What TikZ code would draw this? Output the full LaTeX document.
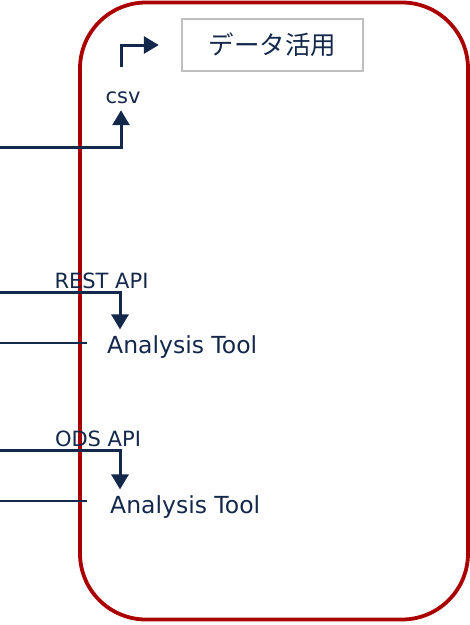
\documentclass[tikz,border=0pt]{standalone}
\usepackage{fontspec}
\setmainfont{DejaVu Sans}
\newfontfamily\jpfont{Noto Sans CJK JP}
\usetikzlibrary{arrows.meta,positioning}
\definecolor{navy}{HTML}{14284B}
\definecolor{frame}{HTML}{AA0000}
\definecolor{boxgray}{HTML}{BFBFBF}

\begin{document}
\begin{tikzpicture}[x=1pt, y=-1pt,
    flow/.style={navy, line width=3pt, -{Triangle[width=17pt,length=15pt]}},
    feed/.style={navy, line width=2.6pt},
    tool/.style={text=navy, font=\fontsize{23.5}{27}\selectfont, anchor=west, inner sep=0pt},
    api/.style={text=navy, font=\fontsize{21}{25}\selectfont, inner sep=0pt}]
    \useasboundingbox (0,0) rectangle (470,625);
    \draw[frame, line width=3.8pt, rounded corners=66pt] (80,2.5) rectangle (468,619.5);

    \node[draw=boxgray, line width=2.4pt, minimum width=181pt, minimum height=52pt,
          text=navy, font=\jpfont\fontsize{25.5}{30}\selectfont] (use) at (272.5,45) {データ活用};
    \node[api] (csv) at (123,98) {csv};
    \node[api] (rest) at (101.5,281) {REST API};
    \node[api] (ods) at (98,438.5) {ODS API};
    \node[tool] (tool1) at (107,347) {Analysis Tool};
    \node[tool] (tool2) at (110,507) {Analysis Tool};

    \coordinate (csvsrc) at (0,147);
    \coordinate (restsrc) at (0,292);
    \coordinate (odssrc) at (0,450);
    \coordinate (tool1src) at (0,343);
    \coordinate (tool2src) at (0,501);

    \draw[flow, shorten >=6pt] (csvsrc) -| ([xshift=-2pt]csv.south);
    \draw[flow, shorten <=25pt, shorten >=22pt] ([xshift=-2pt]csv.north) |- (use.west);
    \draw[flow, shorten >=6pt] (restsrc) -| ([xshift=13pt]tool1.north west);
    \draw[flow, shorten >=6pt] (odssrc) -| ([xshift=10pt]tool2.north west);
    \draw[feed, shorten >=20pt] (tool1src) -- (tool1src -| tool1.west);
    \draw[feed, shorten >=23pt] (tool2src) -- (tool2src -| tool2.west);
\end{tikzpicture}
\end{document}
